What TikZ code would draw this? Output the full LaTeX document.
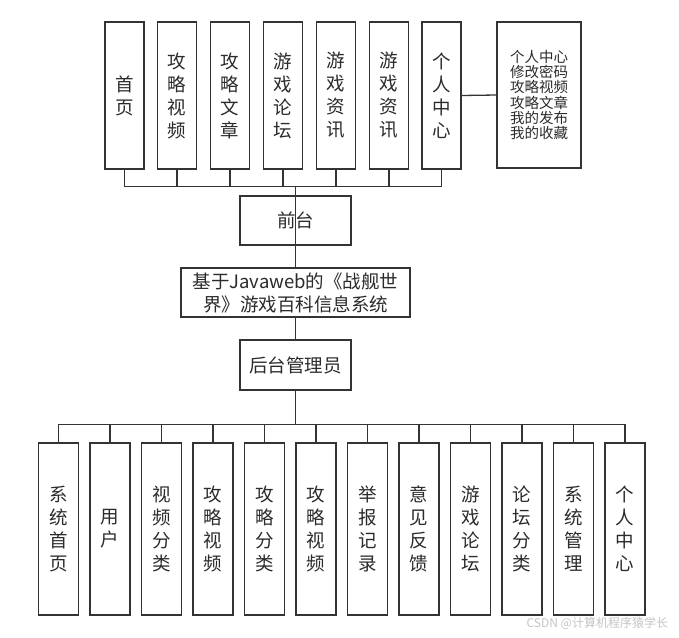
\documentclass[tikz,border=0pt]{standalone}
\usepackage{fontspec}
\setmainfont{Noto Sans CJK SC}
\usetikzlibrary{positioning}
\definecolor{sysline}{HTML}{333333}
\definecolor{sysink}{HTML}{2B2B2B}
\definecolor{syswater}{HTML}{C4C4C4}

\begin{document}
\begin{tikzpicture}[x=1pt, y=-1pt, line width=1.3pt, draw=sysline,
  box/.style={draw=sysline, line width=1.3pt, fill=white, inner sep=0pt, align=center, text=sysink,
    font=\fontsize{18.5}{23}\selectfont},
  topcol/.style={box, minimum width=39, minimum height=147},
  lowcol/.style={box, minimum width=40, minimum height=172},
  midbox/.style={box, minimum width=111, minimum height=49}]
  \useasboundingbox (0,0) rectangle (679,637);

  % front-end modules
  \node[topcol] (shouye)   at (124.5,95.5) {首\\页};
  \node[topcol] (gsp)      at (177,95.5)   {攻\\略\\视\\频};
  \node[topcol] (gwz)      at (230,95.5)   {攻\\略\\文\\章};
  \node[topcol] (ylt)      at (283,95.5)   {游\\戏\\论\\坛};
  \node[topcol] (yzx1)     at (336,95.5)   {游\\戏\\资\\讯};
  \node[topcol] (yzx2)     at (389,95.5)   {游\\戏\\资\\讯};
  \node[topcol] (grzx)     at (441.5,95.5) {个\\人\\中\\心};
  \node[box, minimum width=84, minimum height=146,
        font=\fontsize{14.5}{15.3}\selectfont] (grlist) at (539,95)
        {个人中心\\修改密码\\攻略视频\\攻略文章\\我的发布\\我的收藏};

  % trunk
  \node[midbox] (qiantai) at (295.5,220.5) {前台};
  \node[box, minimum width=229, minimum height=49] (xitong) at (295.5,292.5)
        {基于Javaweb的《战舰世\\界》游戏百科信息系统};
  \node[midbox, minimum height=50] (houtai) at (295.5,365) {后台管理员};

  % back-end modules
  \node[lowcol] (xtsy)  at (58.5,529)  {系\\统\\首\\页};
  \node[lowcol] (yh)    at (110,529)   {用\\户};
  \node[lowcol] (spfl)  at (161.5,529) {视\\频\\分\\类};
  \node[lowcol] (glsp1) at (213,529)   {攻\\略\\视\\频};
  \node[lowcol] (glfl)  at (264.5,529) {攻\\略\\分\\类};
  \node[lowcol] (glsp2) at (316,529)   {攻\\略\\视\\频};
  \node[lowcol] (jbjl)  at (367.5,529) {举\\报\\记\\录};
  \node[lowcol] (yjfk)  at (419,529)   {意\\见\\反\\馈};
  \node[lowcol] (yxlt)  at (470.5,529) {游\\戏\\论\\坛};
  \node[lowcol] (ltfl)  at (522,529)   {论\\坛\\分\\类};
  \node[lowcol] (xtgl)  at (573.5,529) {系\\统\\管\\理};
  \node[lowcol] (grzx2) at (625,529)   {个\\人\\中\\心};

  \node[text=syswater, font=\fontsize{12}{14}\selectfont, anchor=east] (mark) at (672,623)
        {CSDN @计算机程序猿学长};

  % connectors
  \draw (qiantai.north) -- (xitong.north);
  \draw (xitong.south) -- (houtai.north);
  \draw (grzx.east) -- (grlist.west);
  \draw (qiantai.north) -- ++(0,-9) -| (shouye.south)
        (qiantai.north) ++(0,-9) -| (gsp.south)
        (qiantai.north) ++(0,-9) -| (gwz.south)
        (qiantai.north) ++(0,-9) -| (ylt.south)
        (qiantai.north) ++(0,-9) -| (yzx1.south)
        (qiantai.north) ++(0,-9) -| (yzx2.south)
        (qiantai.north) ++(0,-9) -| (grzx.south);
  \draw (houtai.south) -- ++(0,34) -| (xtsy.north)
        (houtai.south) ++(0,34) -| (yh.north)
        (houtai.south) ++(0,34) -| (spfl.north)
        (houtai.south) ++(0,34) -| (glsp1.north)
        (houtai.south) ++(0,34) -| (glfl.north)
        (houtai.south) ++(0,34) -| (glsp2.north)
        (houtai.south) ++(0,34) -| (jbjl.north)
        (houtai.south) ++(0,34) -| (yjfk.north)
        (houtai.south) ++(0,34) -| (yxlt.north)
        (houtai.south) ++(0,34) -| (ltfl.north)
        (houtai.south) ++(0,34) -| (xtgl.north)
        (houtai.south) ++(0,34) -| (grzx2.north);
\end{tikzpicture}
\end{document}
